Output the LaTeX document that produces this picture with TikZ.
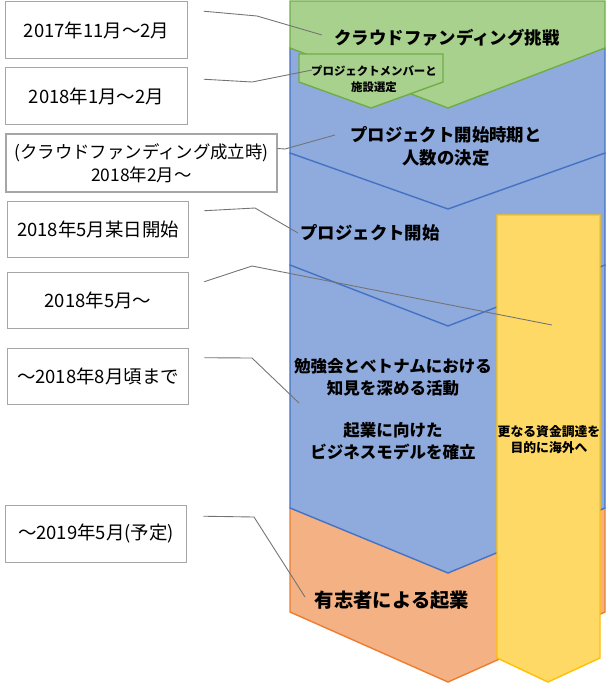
\documentclass[tikz,border=0pt]{standalone}
\usepackage{fontspec}
\setmainfont{Noto Sans CJK JP}
\definecolor{grfill}{HTML}{A9D18E}
\definecolor{grline}{HTML}{70AD47}
\definecolor{blfill}{HTML}{8FAADC}
\definecolor{blline}{HTML}{4472C4}
\definecolor{orfill}{HTML}{F4B183}
\definecolor{orline}{HTML}{ED7D31}
\definecolor{yefill}{HTML}{FFD966}
\definecolor{yeline}{HTML}{FFC000}
\begin{document}
\begin{tikzpicture}[x=0.02cm, y=-0.02cm, line width=0.8pt,
  datebox/.style={draw=black!35, line width=0.6pt, minimum width=3.63cm, minimum height=1.13cm, inner sep=0pt, align=center, font=\fontsize{10.5}{13}\selectfont},
  stage/.style={align=center, font=\bfseries\fontsize{9.9}{13}\selectfont},
  callout/.style={draw=black!55, line width=0.5pt}]
\useasboundingbox (0,0) rectangle (610,683);

% stages, lowest first
\filldraw[fill=orfill, draw=orline] (290,508) -- (605,508) -- (605,612) -- (448,682) -- (290,612) -- cycle;
\filldraw[fill=blfill, draw=blline] (290,265) -- (605,265) -- (605,508) -- (448,573) -- (290,508) -- cycle;
\filldraw[fill=blfill, draw=blline] (290,153) -- (605,153) -- (605,265) -- (448,326) -- (290,265) -- cycle;
\filldraw[fill=blfill, draw=blline] (290,48) -- (605,48) -- (605,153) -- (448,209) -- (290,153) -- cycle;
\filldraw[fill=yefill, draw=yeline] (497,215) -- (600,215) -- (600,658) -- (548,682) -- (497,658) -- cycle;
\filldraw[fill=grfill, draw=grline] (290,1) -- (605,1) -- (605,48) -- (448,108) -- (290,48) -- cycle;
\filldraw[fill=grfill, draw=grline] (299,54) -- (443,54) -- (443,82) -- (371,108) -- (299,82) -- cycle;

\node[stage] (s1) at (447,38){クラウドファンディング挑戦};
\node[stage, font=\bfseries\fontsize{6.5}{9.1}\selectfont] (s2) at (374,79){プロジェクトメンバーと\\施設選定};
\node[stage] (s3) at (446,146.5){プロジェクト開始時期と\\人数の決定};
\node[stage] (s4) at (370,233){プロジェクト開始};
\node[stage, font=\bfseries\fontsize{9.4}{12.5}\selectfont] (s5) at (393,377){勉強会とベトナムにおける\\知見を深める活動};
\node[stage, font=\bfseries\fontsize{9.4}{12.5}\selectfont] (s6) at (393,441.5){起業に向けた\\ビジネスモデルを確立};
\node[stage, font=\bfseries\fontsize{7.3}{9.1}\selectfont] (s7) at (549,440){更なる資金調達を\\目的に海外へ};
\node[stage, font=\bfseries\fontsize{11}{13}\selectfont] (s8) at (392,600){有志者による起業};

% dates
\node[datebox] (d1) at (96.5,30){2017年11月～2月};
\node[datebox] (d2) at (96.5,96){2018年1月～2月};
\node[datebox, minimum width=5.42cm, minimum height=1.16cm, font=\fontsize{9.9}{13}\selectfont] (d3) at (141.5,163){(クラウドファンディング成立時)\\2018年2月～};
\node[datebox] (d4) at (98,229.5){2018年5月某日開始};
\node[datebox] (d5) at (98,300.5){2018年5月～};
\node[datebox] (d6) at (98,376.5){～2018年8月頃まで};
\node[datebox] (d7) at (96,534){～2019年5月(予定)};

\coordinate (k1) at (257,16);  \coordinate (e1) at (322,35);
\coordinate (k2) at (252,82);  \coordinate (e2) at (312,70);
\coordinate (k3) at (285,149); \coordinate (e3) at (335,135);
\coordinate (k4) at (255,208); \coordinate (e4) at (298,233);
\coordinate (k5) at (252,266); \coordinate (e5) at (552,325);
\coordinate (k6) at (252,358); \coordinate (e6) at (299,403);
\coordinate (k7) at (254,517); \coordinate (e7) at (305,597);

\draw[callout] ([shift={(16,10)}]d1.north east) -- (k1) -- (e1);
\draw[callout] ([shift={(16,12)}]d2.north east) -- (k2) -- (e2);
\draw[callout] ([shift={(0,15)}]d3.north east) -- (k3) -- (e3);
\draw[callout] ([shift={(15,10)}]d4.north east) -- (k4) -- (e4);
\draw[callout] ([shift={(15,10)}]d5.north east) -- (k5) -- (e5);
\draw[callout] ([shift={(15,10)}]d6.north east) -- (k6) -- (e6);
\draw[callout] ([shift={(16,11)}]d7.north east) -- (k7) -- (e7);
\end{tikzpicture}
\end{document}
